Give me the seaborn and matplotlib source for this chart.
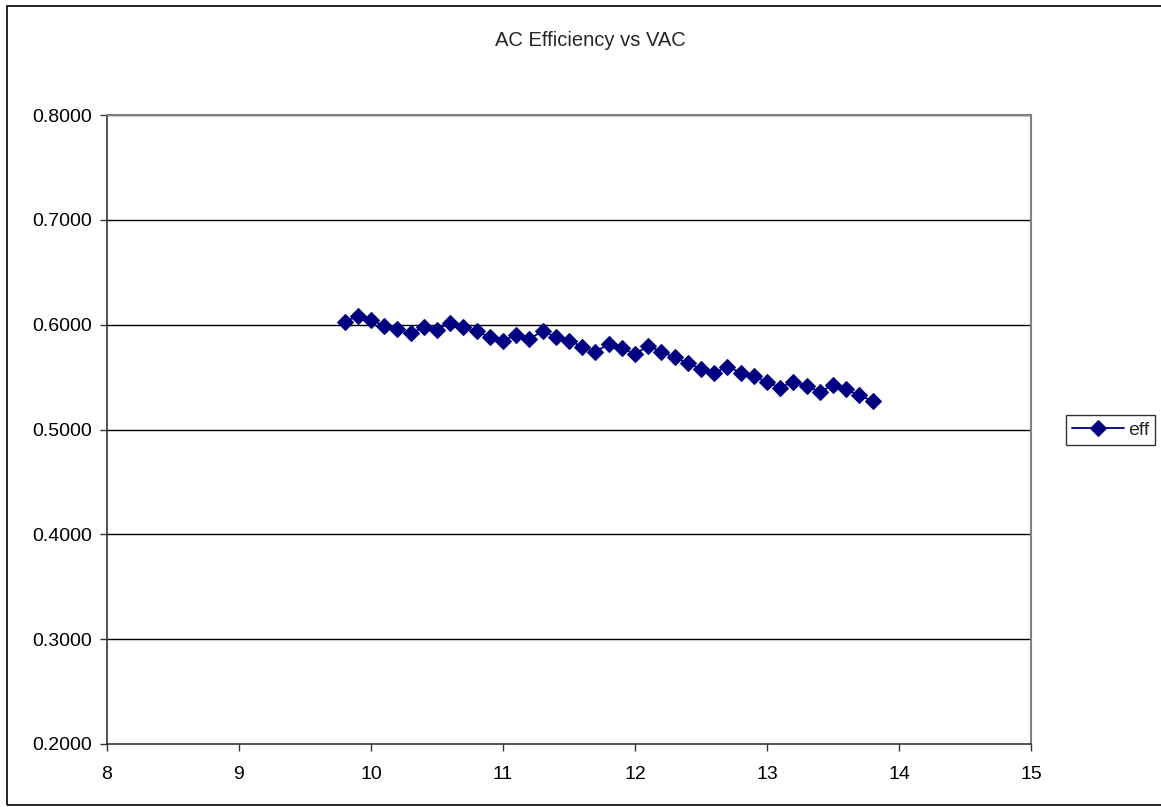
import numpy as np
import pandas as pd
import matplotlib
matplotlib.use('Agg')
import matplotlib.pyplot as plt
import seaborn as sns
from matplotlib.patches import Rectangle

vac = [round(9.8 + 0.1 * i, 1) for i in range(41)]
eff = [0.6030, 0.6080, 0.6045, 0.5990, 0.5956, 0.5918, 0.5975, 0.5950, 0.6020, 0.5975,
       0.5937, 0.5880, 0.5848, 0.5902, 0.5863, 0.5940, 0.5883, 0.5848, 0.5790, 0.5740,
       0.5816, 0.5775, 0.5720, 0.5797, 0.5743, 0.5689, 0.5631, 0.5580, 0.5539, 0.5600,
       0.5542, 0.5510, 0.5453, 0.5399, 0.5456, 0.5415, 0.5361, 0.5421, 0.5383, 0.5326,
       0.5271]
yticks = [0.2, 0.3, 0.4, 0.5, 0.6, 0.7, 0.8]
xticks = [8, 9, 10, 11, 12, 13, 14, 15]

df = pd.DataFrame({'VAC': vac, 'eff': eff})

sns.set_style('white')
plt.rcParams['font.family'] = ['Liberation Sans', 'DejaVu Sans']

W, H = 1161, 807
fig = plt.figure(figsize=(W / 100, H / 100), dpi=100)
ax = fig.add_axes([107 / W, 1 - 744 / H, (1031 - 107) / W, (744 - 115) / H])

sns.lineplot(data=df, x='VAC', y='eff', ax=ax, color='#000080', marker='D',
             markersize=8.5, markeredgecolor='#000080', linewidth=1.3, label='eff')

ax.set_xlim(8, 15)
ax.set_ylim(0.2, 0.8)
ax.set_xticks(xticks)
ax.set_yticks(yticks)
ax.set_yticklabels([f'{v:.4f}' for v in yticks])
ax.set_xlabel('')
ax.set_ylabel('')
for v in yticks[1:]:
    ax.axhline(v, color='black', linewidth=1, zorder=0)
ax.tick_params(axis='both', direction='out', length=5, width=1, color='#333333',
               labelsize=14, labelcolor='black', bottom=True, left=True)
ax.tick_params(axis='x', pad=11)
ax.tick_params(axis='y', pad=6)
for s in ['left', 'bottom']:
    ax.spines[s].set_color('#333333')
    ax.spines[s].set_linewidth(1.2)
for s in ['top', 'right']:
    ax.spines[s].set_color('#808080')
    ax.spines[s].set_linewidth(1.5)

ax.get_legend().remove()
h, l = ax.get_legend_handles_labels()
fig.legend(h, l, loc='center left', bbox_to_anchor=(1066 / W, 1 - 430 / H),
           frameon=True, fancybox=False, edgecolor='black', fontsize=14,
           handlelength=2.7, borderpad=0.3, handletextpad=0.2, borderaxespad=0)

fig.text(590 / W, 1 - 40 / H, 'AC Efficiency vs VAC', ha='center', va='center', fontsize=14.5)

fig.patches.append(Rectangle((7 / W, 1 - 805 / H), (W + 10 - 7) / W, (805 - 6) / H,
                             transform=fig.transFigure, fill=False, edgecolor='black',
                             linewidth=1.2, clip_on=False))

fig.savefig('out.png', dpi=100)
